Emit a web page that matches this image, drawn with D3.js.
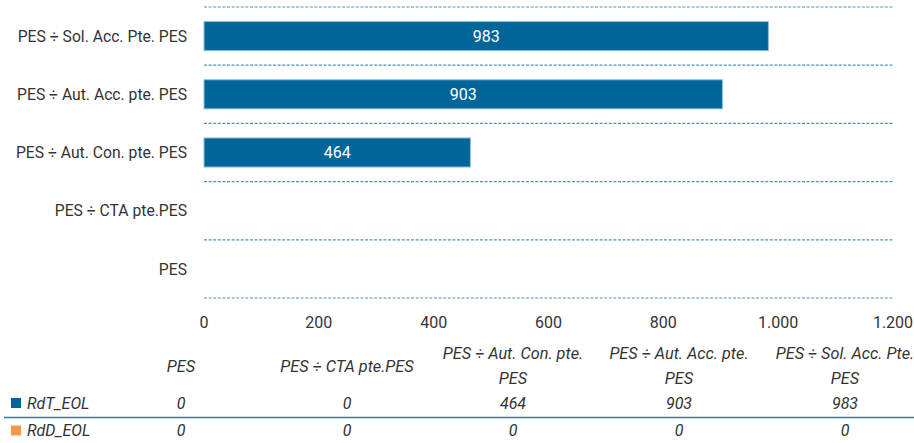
<!DOCTYPE html>
<html>
<head>
<meta charset="utf-8">
<script src="https://cdn.jsdelivr.net/npm/d3@7"></script>
<style>
  body { margin: 0; background: #fff; }
  text { font-family: Roboto, "Liberation Sans", sans-serif; fill: #333; }
</style>
</head>
<body>
<div id="chart"></div>
<script>
// categories top to bottom as plotted
var categories = ["PES ÷ Sol. Acc. Pte. PES", "PES ÷ Aut. Acc. pte. PES", "PES ÷ Aut. Con. pte. PES", "PES ÷ CTA pte.PES", "PES"];
// table order (left to right)
var tableCols = [["PES"], ["PES ÷ CTA pte.PES"], ["PES ÷ Aut. Con. pte.", "PES"], ["PES ÷ Aut. Acc. pte.", "PES"], ["PES ÷ Sol. Acc. Pte.", "PES"]];
var seriesNames = ["RdT_EOL", "RdD_EOL"];
var seriesColors = ["#006699", "#F79646"];
var rdt = [0, 0, 464, 903, 983];   // table order
var rdd = [0, 0, 0, 0, 0];
var xTicks = [0, 200, 400, 600, 800, 1000, 1200];

var W = 914, H = 443;
var svg = d3.select("#chart").append("svg").attr("width", W).attr("height", H);

var x = d3.scaleLinear().domain([0, 1200]).range([204, 893]);
var y = d3.scaleBand().domain(categories).range([7, 298]).paddingInner(0.5).paddingOuter(0.25);

var fmt = function(v){ return d3.format(",")(v).replace(/,/g, "."); };

// dashed gridlines at band boundaries
var bounds = d3.range(categories.length + 1).map(function(i){ return 7 + i * (298 - 7) / categories.length; });
svg.selectAll(".grid").data(bounds).enter().append("line")
  .attr("x1", x(0)).attr("x2", x(1200))
  .attr("y1", function(d){ return d; }).attr("y2", function(d){ return d; })
  .attr("stroke", "#4f93bd").attr("stroke-width", 1.2)
  .attr("stroke-dasharray", "3,1.6");

// bars (RdT) - values per category
var barData = categories.map(function(c){
  var idx = tableCols.findIndex(function(t){ return t.join(" ") === c; });
  return {cat: c, value: rdt[idx]};
});
svg.selectAll(".bar").data(barData.filter(function(d){ return d.value > 0; })).enter().append("rect")
  .attr("x", x(0)).attr("y", function(d){ return y(d.cat); })
  .attr("width", function(d){ return x(d.value) - x(0); })
  .attr("height", y.bandwidth())
  .attr("fill", seriesColors[0]).attr("stroke", "#8cc2de").attr("stroke-width", 1);

svg.selectAll(".lbl").data(barData.filter(function(d){ return d.value > 0; })).enter().append("text")
  .attr("x", function(d){ return (x(0) + x(d.value)) / 2; })
  .attr("y", function(d){ return y(d.cat) + y.bandwidth() / 2; })
  .attr("dy", "0.36em").attr("text-anchor", "middle")
  .style("fill", "#fff").style("font-size", "16px")
  .text(function(d){ return fmt(d.value); });

// category labels
svg.selectAll(".cat").data(categories).enter().append("text")
  .attr("x", 187).attr("y", function(d){ return y(d) + y.bandwidth() / 2; })
  .attr("dy", "0.36em").attr("text-anchor", "end").style("font-size", "15.7px")
  .text(function(d){ return d; });

// x tick labels
svg.selectAll(".tick").data(xTicks).enter().append("text")
  .attr("x", function(d){ return x(d); }).attr("y", 322)
  .attr("dy", "0.36em").attr("text-anchor", "middle").style("font-size", "16px")
  .text(fmt);

// data table
var colX = d3.scaleBand().domain(d3.range(5)).range([98, 928]);
var head = svg.selectAll(".head").data(tableCols).enter().append("text")
  .attr("text-anchor", "middle").style("font-size", "16.3px").style("font-style", "italic")
  .attr("x", function(d, i){ return colX(i) + colX.bandwidth() / 2; })
  .attr("y", function(d){ return d.length > 1 ? 353 : 366; })
  .attr("dy", "0.36em");
head.selectAll("tspan").data(function(d){ return d; }).enter().append("tspan")
  .attr("x", function(){ return d3.select(this.parentNode).attr("x"); })
  .attr("dy", function(d, i){ return i === 0 ? "0.36em" : "25px"; })
  .text(function(d){ return d; });

var rowY = [403, 430.5];
[rdt, rdd].forEach(function(vals, r){
  svg.append("rect").attr("x", 11).attr("y", rowY[r] - 5).attr("width", 10).attr("height", 10)
    .attr("fill", seriesColors[r]);
  svg.append("text").attr("x", 27).attr("y", rowY[r]).attr("dy", "0.36em")
    .style("font-size", "16px").style("font-style", "italic").text(seriesNames[r]);
  svg.selectAll(".v" + r).data(vals).enter().append("text")
    .attr("x", function(d, i){ return colX(i) + colX.bandwidth() / 2; })
    .attr("y", rowY[r]).attr("dy", "0.36em").attr("text-anchor", "middle")
    .style("font-size", "16px").style("font-style", "italic").text(fmt);
});
svg.append("line").attr("x1", 4).attr("x2", W).attr("y1", 417.5).attr("y2", 417.5)
  .attr("stroke", "#2a7db0").attr("stroke-width", 1.5);
</script>
</body>
</html>
